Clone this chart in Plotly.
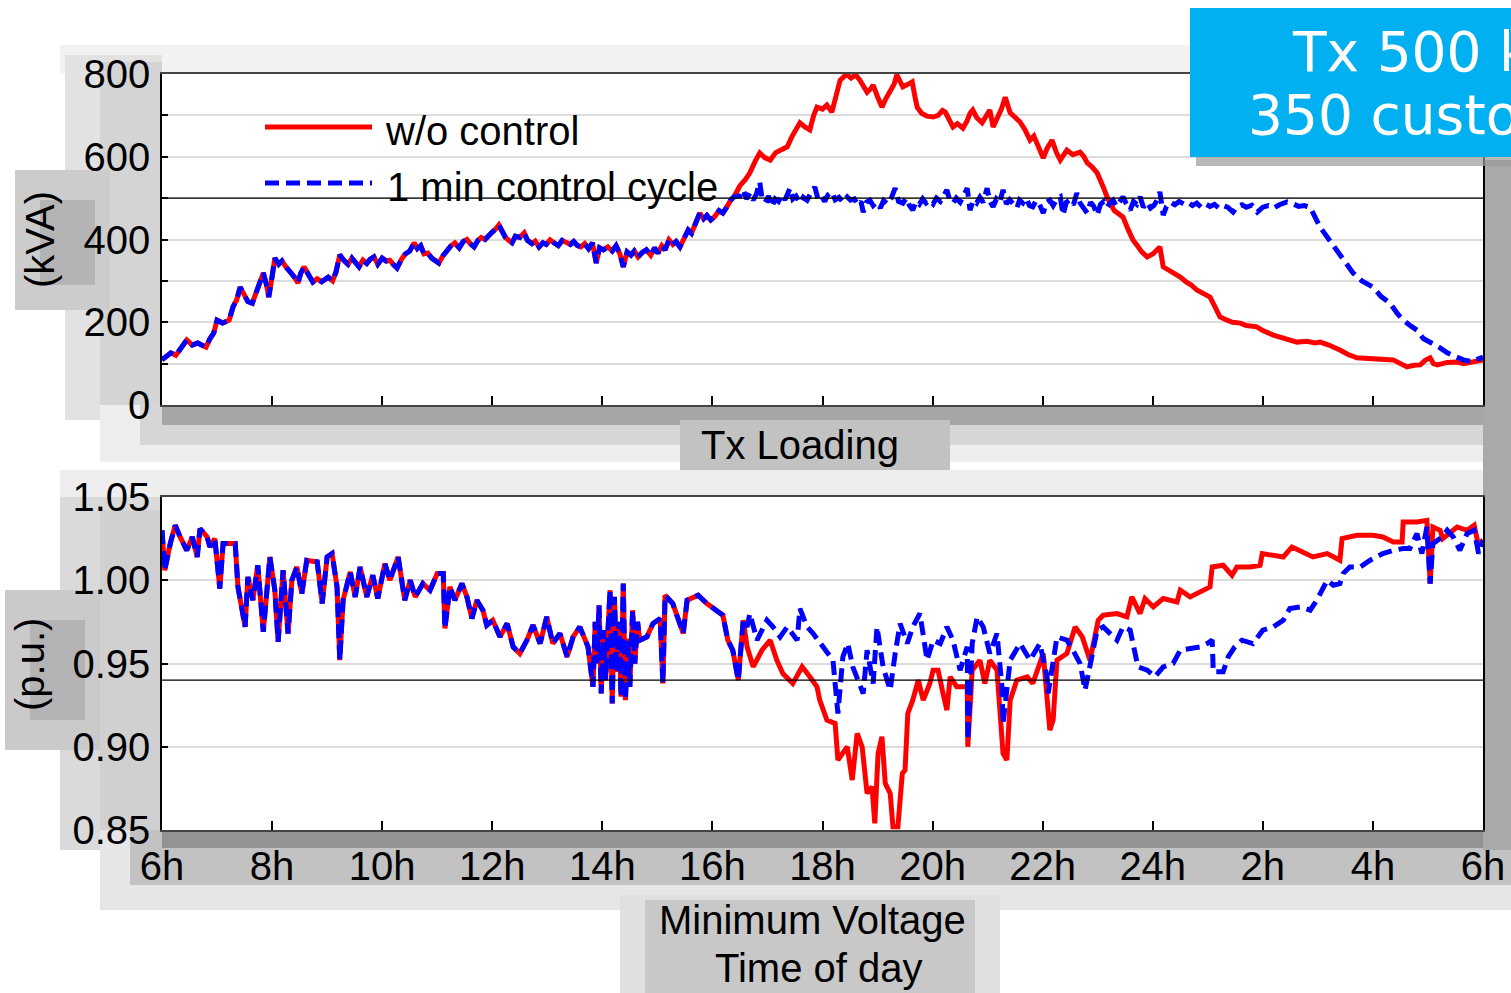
import plotly.graph_objects as go

# ---------------- data (hours since midnight, 6h -> 30h = 6h next day) ----------------
load_common_t = [6.00, 6.08, 6.16, 6.25, 6.35, 6.45, 6.55, 6.65, 6.72, 6.80, 6.87, 6.94, 7.00, 7.10, 7.22, 7.29,
                 7.36, 7.42, 7.50, 7.56, 7.64, 7.72, 7.78, 7.84, 7.90, 7.94, 8.00, 8.05, 8.12, 8.18, 8.25, 8.33,
                 8.40, 8.47, 8.52, 8.58, 8.66, 8.74, 8.82, 8.90, 9.02, 9.10, 9.16, 9.23, 9.30, 9.38, 9.45, 9.52,
                 9.58, 9.65, 9.72, 9.78, 9.85, 9.92, 10.00, 10.07, 10.14, 10.20, 10.27, 10.35, 10.42, 10.50, 10.58,
                 10.64, 10.70, 10.76, 10.83, 10.90, 10.96, 11.03, 11.10, 11.18, 11.25, 11.32, 11.40, 11.47, 11.54,
                 11.60, 11.67, 11.74, 11.80, 11.87, 11.94, 12.00, 12.06, 12.12, 12.18, 12.24, 12.30, 12.36, 12.42,
                 12.50, 12.58, 12.64, 12.72, 12.78, 12.85, 12.92, 12.98, 13.05, 13.12, 13.20, 13.27, 13.34, 13.42,
                 13.48, 13.55, 13.61, 13.68, 13.75, 13.82, 13.89, 13.95, 14.02, 14.10, 14.18, 14.25, 14.32, 14.38,
                 14.45, 14.52, 14.58, 14.65, 14.72, 14.80, 14.88, 14.95, 15.01, 15.08, 15.14, 15.21, 15.28, 15.34,
                 15.41, 15.48, 15.56, 15.62, 15.70, 15.77, 15.84, 15.90, 15.97, 16.04, 16.12, 16.19, 16.26, 16.33,
                 16.39]
load_common = [109, 118, 126, 120, 138, 157, 145, 150, 145, 140, 160, 174, 205, 198, 205, 237,
               255, 285, 265, 250, 246, 275, 295, 319, 290, 261, 310, 355, 340, 348, 334, 322,
               310, 295, 318, 334, 315, 297, 305, 298, 309, 300, 321, 363, 350, 340, 355, 345,
               334, 350, 342, 352, 358, 340, 355, 348, 350, 340, 331, 352, 365, 372, 392,
               378, 385, 365, 367, 355, 350, 343, 360, 375, 385, 392, 380, 395, 400,
               390, 382, 398, 405, 400, 411, 418, 425, 435, 420, 405, 398, 392, 408,
               405, 416, 398, 390, 396, 382, 392, 388, 399, 392, 385, 398, 394, 388,
               395, 385, 382, 390, 378, 392, 343, 380, 375, 382, 372, 385, 365, 334,
               370, 362, 372, 358, 368, 375, 362, 380, 367, 385, 375, 399, 388, 395,
               382, 400, 423, 415, 440, 464, 450, 458, 447, 455, 470, 464, 478, 495,
               503]

load_red_t = [16.50, 16.60, 16.68, 16.78, 16.86, 16.95, 17.05, 17.15, 17.25, 17.36, 17.45, 17.52, 17.59, 17.68,
              17.77, 17.84, 17.90, 18.00, 18.08, 18.17, 18.25, 18.32, 18.40, 18.45, 18.52, 18.60, 18.68, 18.75,
              18.81, 18.88, 18.92, 19.00, 19.08, 19.15, 19.23, 19.30, 19.35, 19.42, 19.46, 19.55, 19.63, 19.68,
              19.72, 19.80, 19.90, 20.01, 20.10, 20.18, 20.23, 20.30, 20.37, 20.45, 20.55, 20.62, 20.68, 20.73,
              20.80, 20.90, 20.97, 21.04, 21.10, 21.18, 21.25, 21.32, 21.41, 21.50, 21.59, 21.68, 21.77, 21.84,
              21.90, 22.01, 22.08, 22.17, 22.25, 22.32, 22.44, 22.55, 22.68, 22.75, 22.81, 22.90, 22.99, 23.05,
              23.10, 23.17, 23.22, 23.30, 23.38, 23.46, 23.55, 23.64, 23.72, 23.80, 23.90, 24.00, 24.08, 24.13,
              24.19, 24.30, 24.40, 24.50, 24.60, 24.70, 24.80, 24.92, 25.04, 25.12, 25.22, 25.35, 25.45, 25.59,
              25.70, 25.89, 26.00, 26.19, 26.30, 26.45, 26.62, 26.80, 26.95, 27.04, 27.20, 27.40, 27.55, 27.71,
              27.90, 28.13, 28.37, 28.50, 28.62, 28.75, 28.86, 28.95, 29.04, 29.10, 29.17, 29.35, 29.53, 29.65,
              29.76, 29.90, 30.00]
load_red = [530, 545, 561, 590, 609, 598, 592, 610, 618, 624, 650, 665, 682, 672,
            665, 700, 720, 715, 725, 708, 750, 785, 795, 798, 790, 798, 785, 770,
            756, 765, 773, 745, 720, 740, 756, 775, 798, 780, 769, 775, 781, 745,
            720, 705, 698, 696, 700, 712, 708, 690, 672, 680, 669, 685, 705, 713,
            695, 682, 700, 713, 672, 695, 715, 744, 706, 695, 684, 665, 640, 650,
            633, 597, 620, 640, 610, 592, 616, 605, 611, 600, 585, 575, 561, 545,
            527, 503, 488, 470, 462, 454, 425, 399, 385, 370, 358, 365, 375, 382,
            334, 325, 318, 309, 298, 290, 278, 270, 261, 240, 213, 205, 200, 198,
            192, 189, 180, 169, 165, 160, 152, 154, 150, 152, 145, 133, 122, 114,
            112, 109, 109, 100, 92, 96, 97, 108, 114, 100, 97, 103, 104, 100,
            102, 105, 109]

load_blue_t = [16.50, 16.56, 16.62, 16.68, 16.74, 16.80, 16.86, 16.90, 16.96, 17.02, 17.08, 17.14, 17.20, 17.26,
               17.32, 17.41, 17.46, 17.52, 17.59, 17.65, 17.72, 17.78, 17.86, 17.92, 17.98, 18.04, 18.10, 18.17,
               18.23, 18.30, 18.37, 18.45, 18.51, 18.58, 18.64, 18.70, 18.74, 18.80, 18.86, 18.92, 18.98, 19.05,
               19.11, 19.18, 19.25, 19.32, 19.38, 19.46, 19.52, 19.58, 19.64, 19.70, 19.76, 19.82, 19.88, 19.95,
               20.01, 20.07, 20.14, 20.20, 20.26, 20.31, 20.37, 20.43, 20.50, 20.56, 20.63, 20.68, 20.74, 20.80,
               20.86, 20.92, 20.99, 21.04, 21.10, 21.16, 21.22, 21.28, 21.34, 21.40, 21.46, 21.53, 21.58, 21.64,
               21.70, 21.76, 21.82, 21.88, 21.94, 22.01, 22.07, 22.13, 22.19, 22.26, 22.32, 22.37, 22.43, 22.50,
               22.56, 22.62, 22.68, 22.74, 22.81, 22.87, 22.93, 22.99, 23.05, 23.11, 23.17, 23.22, 23.28, 23.34,
               23.40, 23.46, 23.52, 23.59, 23.65, 23.71, 23.77, 23.83, 23.90, 23.96, 24.02, 24.08, 24.13, 24.19,
               24.25, 24.32, 24.40, 24.48, 24.56, 24.64, 24.72, 24.80, 24.88, 24.96, 25.04, 25.12, 25.20, 25.28,
               25.36, 25.46, 25.54, 25.62, 25.70, 25.80, 25.90, 26.00, 26.10, 26.20, 26.30, 26.44, 26.55, 26.65,
               26.75, 26.86, 27.04, 27.20, 27.35, 27.50, 27.64, 27.80, 28.00, 28.15, 28.31, 28.45, 28.55, 28.70,
               28.80, 28.92, 29.04, 29.20, 29.35, 29.50, 29.64, 29.80, 30.00]
load_blue = [505, 520, 498, 512, 495, 510, 539, 500, 490, 505, 479, 498, 492, 508,
             496, 524, 498, 505, 488, 502, 495, 510, 527, 497, 505, 492, 508, 515,
             496, 502, 490, 503, 495, 498, 484, 492, 466, 490, 495, 482, 490, 476,
             494, 486, 500, 524, 492, 488, 500, 482, 471, 492, 485, 498, 488, 495,
             486, 500, 492, 505, 520, 496, 488, 500, 490, 505, 524, 471, 495, 488,
             502, 490, 524, 492, 479, 498, 490, 520, 486, 496, 485, 476, 495, 488,
             500, 482, 479, 494, 486, 464, 490, 495, 482, 498, 503, 459, 490, 496,
             484, 512, 488, 478, 464, 490, 480, 459, 485, 492, 478, 488, 495, 480,
             490, 503, 486, 471, 492, 485, 503, 478, 490, 476, 482, 495, 515, 459,
             480, 490, 484, 492, 486, 490, 482, 488, 478, 486, 480, 485, 476, 482,
             478, 466, 480, 484, 478, 483, 466, 478, 482, 476, 484, 491, 486, 480,
             482, 478, 430, 400, 375, 345, 319, 300, 285, 262, 246, 220, 205, 190,
             181, 160, 152, 140, 126, 118, 109, 105, 116]

volt_common_t = [6.00, 6.05, 6.15, 6.24, 6.33, 6.45, 6.55, 6.64, 6.69, 6.82, 6.87, 6.96, 7.05, 7.11, 7.33, 7.38,
                 7.51, 7.56, 7.65, 7.74, 7.84, 7.96, 8.05, 8.11, 8.20, 8.29, 8.36, 8.45, 8.54, 8.63, 8.82, 8.91,
                 9.00, 9.09, 9.18, 9.23, 9.29, 9.42, 9.51, 9.60, 9.72, 9.83, 9.92, 10.05, 10.14, 10.29, 10.41,
                 10.51, 10.60, 10.74, 10.87, 11.00, 11.11, 11.14, 11.23, 11.32, 11.45, 11.54, 11.63, 11.72, 11.83,
                 11.90, 12.01, 12.14, 12.27, 12.38, 12.50, 12.63, 12.74, 12.87, 12.99, 13.10, 13.23, 13.36, 13.47,
                 13.59, 13.74, 13.83, 13.87, 13.90, 13.94, 13.98, 14.02, 14.06, 14.10, 14.14, 14.18, 14.22, 14.26,
                 14.30, 14.34, 14.38, 14.42, 14.46, 14.50, 14.55, 14.59, 14.64, 14.68, 14.81, 14.92, 15.05, 15.10,
                 15.14, 15.28, 15.41, 15.47, 15.54, 15.74, 15.90, 16.01, 16.19, 16.28, 16.37, 16.47, 16.56]
volt_common = [1.030, 1.006, 1.022, 1.033, 1.026, 1.018, 1.026, 1.014, 1.031, 1.026, 1.020, 1.025, 0.995, 1.022, 1.022, 0.996,
               0.972, 1.002, 0.988, 1.009, 0.969, 1.014, 0.994, 0.963, 1.006, 0.968, 1.000, 1.008, 0.992, 1.012, 1.011, 0.986,
               1.014, 1.016, 0.996, 0.952, 0.988, 1.005, 0.990, 1.008, 0.990, 1.003, 0.989, 1.010, 1.000, 1.014, 0.988,
               1.000, 0.990, 0.998, 0.994, 1.004, 1.004, 0.971, 0.996, 0.988, 0.998, 0.990, 0.977, 0.988, 0.982,
               0.973, 0.976, 0.966, 0.974, 0.960, 0.956, 0.964, 0.973, 0.962, 0.978, 0.962, 0.968, 0.954, 0.966,
               0.972, 0.960, 0.936, 0.975, 0.950, 0.985, 0.932, 0.970, 0.940, 0.968, 0.994, 0.926, 0.990, 0.945,
               0.975, 0.930, 0.998, 0.928, 0.965, 0.936, 0.982, 0.950, 0.975, 0.964, 0.966, 0.974, 0.977, 0.938,
               0.991, 0.986, 0.972, 0.968, 0.988, 0.991, 0.986, 0.983, 0.979, 0.964, 0.958, 0.940, 0.976]

volt_red_t = [16.63, 16.74, 16.90, 17.05, 17.17, 17.28, 17.46, 17.63, 17.77, 17.90, 17.95, 18.08, 18.23, 18.28,
              18.45, 18.54, 18.63, 18.72, 18.81, 18.90, 18.95, 19.01, 19.08, 19.14, 19.23, 19.28, 19.37, 19.45,
              19.50, 19.55, 19.64, 19.74, 19.83, 19.95, 20.01, 20.10, 20.19, 20.26, 20.32, 20.44, 20.63, 20.64,
              20.72, 20.86, 20.95, 21.04, 21.17, 21.28, 21.35, 21.41, 21.53, 21.72, 21.82, 22.01, 22.13, 22.19,
              22.26, 22.44, 22.59, 22.72, 22.86, 23.01, 23.10, 23.35, 23.53, 23.62, 23.77, 23.86, 24.01, 24.19,
              24.44, 24.50, 24.68, 24.91, 25.04, 25.08, 25.28, 25.44, 25.53, 25.77, 25.95, 25.99, 26.37, 26.53,
              26.73, 26.91, 27.17, 27.28, 27.40, 27.44, 27.71, 28.00, 28.18, 28.37, 28.53, 28.55, 28.80, 28.98,
              29.04, 29.09, 29.22, 29.27, 29.53, 29.71, 29.84, 29.91, 30.00]
volt_red = [0.960, 0.948, 0.958, 0.964, 0.952, 0.944, 0.938, 0.948, 0.942, 0.936, 0.928, 0.916, 0.914, 0.892,
            0.900, 0.880, 0.908, 0.900, 0.872, 0.876, 0.854, 0.896, 0.906, 0.878, 0.872, 0.852, 0.852, 0.884,
            0.886, 0.920, 0.928, 0.940, 0.928, 0.938, 0.946, 0.946, 0.932, 0.922, 0.942, 0.936, 0.936, 0.900,
            0.946, 0.952, 0.938, 0.952, 0.946, 0.896, 0.892, 0.928, 0.940, 0.942, 0.938, 0.956, 0.910, 0.916,
            0.952, 0.956, 0.972, 0.966, 0.952, 0.976, 0.979, 0.980, 0.978, 0.990, 0.980, 0.989, 0.984, 0.989,
            0.987, 0.994, 0.990, 0.994, 0.996, 1.008, 1.009, 1.003, 1.008, 1.008, 1.009, 1.016, 1.014, 1.020,
            1.017, 1.014, 1.016, 1.014, 1.012, 1.025, 1.027, 1.027, 1.026, 1.023, 1.023, 1.035, 1.035, 1.036,
            0.998, 1.032, 1.030, 1.025, 1.032, 1.030, 1.033, 1.022, 1.024]

volt_blue_t = [16.63, 16.68, 16.81, 16.99, 17.10, 17.23, 17.36, 17.54, 17.59, 17.72, 17.83, 18.01, 18.19, 18.28,
               18.37, 18.46, 18.55, 18.74, 18.81, 18.92, 18.99, 19.10, 19.23, 19.32, 19.41, 19.54, 19.64, 19.77,
               19.90, 20.01, 20.14, 20.26, 20.37, 20.50, 20.63, 20.64, 20.72, 20.81, 20.92, 21.04, 21.17, 21.26,
               21.28, 21.41, 21.59, 21.77, 21.95, 22.08, 22.10, 22.26, 22.44, 22.55, 22.68, 22.77, 22.86, 22.99,
               23.10, 23.22, 23.35, 23.46, 23.59, 23.68, 23.73, 23.90, 24.04, 24.19, 24.37, 24.50, 24.68, 24.86,
               24.99, 25.08, 25.10, 25.28, 25.37, 25.49, 25.62, 25.82, 26.00, 26.19, 26.37, 26.49, 26.68, 26.86,
               26.98, 27.17, 27.28, 27.40, 27.46, 27.58, 27.77, 27.95, 28.18, 28.37, 28.55, 28.67, 28.80, 28.89,
               28.98, 29.04, 29.09, 29.26, 29.35, 29.46, 29.58, 29.71, 29.84, 29.92, 30.00]
volt_blue = [0.972, 0.980, 0.964, 0.976, 0.972, 0.966, 0.972, 0.964, 0.983, 0.972, 0.968, 0.960, 0.952, 0.920,
             0.954, 0.962, 0.948, 0.932, 0.958, 0.938, 0.972, 0.948, 0.934, 0.956, 0.974, 0.962, 0.972, 0.980,
             0.952, 0.964, 0.962, 0.972, 0.964, 0.946, 0.960, 0.904, 0.962, 0.978, 0.972, 0.956, 0.968, 0.936,
             0.914, 0.952, 0.962, 0.952, 0.962, 0.942, 0.932, 0.966, 0.964, 0.958, 0.950, 0.934, 0.950, 0.970,
             0.972, 0.968, 0.964, 0.972, 0.970, 0.956, 0.948, 0.946, 0.942, 0.948, 0.950, 0.958, 0.959, 0.960,
             0.962, 0.964, 0.945, 0.945, 0.954, 0.960, 0.964, 0.962, 0.970, 0.972, 0.976, 0.983, 0.984, 0.982,
             0.988, 1.000, 0.997, 0.998, 1.004, 1.008, 1.008, 1.012, 1.016, 1.018, 1.019, 1.019, 1.028, 1.016,
             1.032, 0.998, 1.022, 1.026, 1.030, 1.026, 1.018, 1.028, 1.030, 1.016, 1.024]

x_tickvals = [6, 8, 10, 12, 14, 16, 18, 20, 22, 24, 26, 28, 30]
x_ticktext = ['6h', '8h', '10h', '12h', '14h', '16h', '18h', '20h', '22h', '24h', '2h', '4h', '6h']
load_ticks = [0, 100, 200, 300, 400, 500, 600, 700, 800]
load_ticktext = ['0', '', '200', '', '400', '', '600', '', '800']
volt_ticks = [0.85, 0.90, 0.95, 1.00, 1.05]
volt_ticktext = ['0.85', '0.90', '0.95', '1.00', '1.05']
load_limit = 500
volt_limit = 0.94
series_names = ['w/o control', '1 min control cycle']

# ---------------- figure ----------------
W, H = 1511, 993
def px(x):
    return x / W
def py(y):
    return 1 - y / H

RED = '#FF0000'
BLUE = '#0000FF'
FONT = 'Liberation Sans, Arial, sans-serif'
LW = 5

fig = go.Figure()
fig.add_trace(go.Scatter(x=load_common_t + load_red_t, y=load_common + load_red, mode='lines',
                         line=dict(color=RED, width=LW), xaxis='x', yaxis='y', showlegend=False))
fig.add_trace(go.Scatter(x=load_common_t + load_blue_t, y=load_common + load_blue, mode='lines',
                         line=dict(color=BLUE, width=LW, dash='14px,7px'), xaxis='x', yaxis='y', showlegend=False))
fig.add_trace(go.Scatter(x=volt_common_t + volt_red_t, y=volt_common + volt_red, mode='lines',
                         line=dict(color=RED, width=LW), xaxis='x2', yaxis='y2', showlegend=False))
fig.add_trace(go.Scatter(x=volt_common_t + volt_blue_t, y=volt_common + volt_blue, mode='lines',
                         line=dict(color=BLUE, width=LW, dash='14px,7px'), xaxis='x2', yaxis='y2', showlegend=False))

xdom = [px(162), px(1483)]
tickfont = dict(family=FONT, size=40, color='black')
common_x = dict(range=[6, 30], domain=xdom, tickvals=x_tickvals, ticks='inside', ticklen=9, tickwidth=2,
                tickcolor='black', showgrid=False, showline=True, linecolor='#444', linewidth=1.5, mirror=True,
                zeroline=False, fixedrange=True, automargin=False)
common_y = dict(ticks='inside', ticklen=6, tickwidth=2, tickcolor='black', showgrid=True, gridcolor='#dcdcdc',
                gridwidth=1.5, showline=True, linecolor='black', linewidth=1.5, mirror=True, zeroline=False,
                tickfont=tickfont, ticklabelstandoff=2, automargin=False)

fig.update_layout(
    width=W, height=H, margin=dict(l=0, r=0, t=0, b=0, autoexpand=False),
    paper_bgcolor='white', plot_bgcolor='white', showlegend=False,
    xaxis=dict(common_x, anchor='y', showticklabels=False),
    yaxis=dict(common_y, domain=[py(405), py(74)], range=[0, 800], tickvals=load_ticks, ticktext=load_ticktext),
    xaxis2=dict(common_x, anchor='y2', ticktext=x_ticktext, showticklabels=True, tickfont=tickfont,
                ticklabelstandoff=0),
    yaxis2=dict(common_y, domain=[py(830), py(497)], range=[0.85, 1.05], tickvals=volt_ticks,
                ticktext=volt_ticktext),
)

shapes = []
# soft grey shadow artefacts around the panels (outside the plotting areas)
def grey(x0, y0, x1, y1, c):
    shapes.append(dict(type='rect', xref='paper', yref='paper', x0=px(x0), x1=px(x1), y0=py(y1), y1=py(y0),
                       fillcolor=c, line=dict(width=0), layer='below'))
grey(60, 45, 1190, 74, '#f2f2f2')
grey(65, 55, 162, 420, '#e2e2e2')
grey(100, 62, 162, 412, '#d4d4d4')
grey(15, 170, 110, 310, '#cccccc')
grey(40, 200, 95, 285, '#b4b4b4')
grey(100, 405, 1511, 462, '#eeeeee')
grey(140, 405, 1511, 445, '#d6d6d6')
grey(162, 405, 1483, 425, '#a6a6a6')
grey(680, 420, 950, 490, '#c2c2c2')
grey(60, 470, 1511, 497, '#eeeeee')
grey(60, 497, 162, 850, '#dadada')
grey(100, 510, 162, 840, '#d0d0d0')
grey(5, 590, 100, 750, '#cacaca')
grey(30, 620, 85, 720, '#b4b4b4')
grey(100, 830, 1511, 910, '#e6e6e6')
grey(130, 830, 1511, 885, '#c2c2c2')
grey(162, 830, 1483, 848, '#939393')
grey(620, 895, 1000, 993, '#e0e0e0')
grey(645, 900, 975, 993, '#c8c8c8')
grey(1483, 160, 1511, 850, '#a9a9a9')

# limit lines
shapes.append(dict(type='line', xref='x domain', yref='y', x0=0, x1=1, y0=load_limit, y1=load_limit,
                   line=dict(color='black', width=1.2), layer='above'))
shapes.append(dict(type='line', xref='x2 domain', yref='y2', x0=0, x1=1, y0=volt_limit, y1=volt_limit,
                   line=dict(color='black', width=1.2), layer='above'))
# legend samples
shapes.append(dict(type='line', xref='paper', yref='paper', x0=px(265), x1=px(372), y0=py(127), y1=py(127),
                   line=dict(color=RED, width=LW), layer='above'))
shapes.append(dict(type='line', xref='paper', yref='paper', x0=px(265), x1=px(372), y0=py(183), y1=py(183),
                   line=dict(color=BLUE, width=LW, dash='14px,7px'), layer='above'))
# info box with shadow
shapes.append(dict(type='rect', xref='paper', yref='paper', x0=px(1196), x1=px(1530), y0=py(166), y1=py(14),
                   fillcolor='#9a9a9a', line=dict(width=0), layer='above', opacity=0.7))
shapes.append(dict(type='rect', xref='paper', yref='paper', x0=px(1190), x1=px(1530), y0=py(157), y1=py(8),
                   fillcolor='#00B0F0', line=dict(width=0), layer='above'))
fig.update_layout(shapes=shapes)

ann = []
def text(x, y, s, size=40, xanchor='center', angle=0, color='black', family=FONT):
    ann.append(dict(xref='paper', yref='paper', x=px(x), y=py(y), text=s, showarrow=False, xanchor=xanchor,
                    yanchor='middle', textangle=angle, font=dict(family=family, size=size, color=color)))
text(383, 131, series_names[0], xanchor='left')
text(385, 187, series_names[1], xanchor='left')
text(40, 240, '(kVA)', angle=-90)
text(30, 665, '(p.u.)', angle=-90)
text(800, 445, 'Tx Loading')
text(812, 920, 'Minimum Voltage')
text(818, 968, 'Time of day')
text(1290, 52, 'Tx 500 kVA', size=55, xanchor='left', color='white', family='DejaVu Sans, Verdana, sans-serif')
text(1246, 115, '350 customers', size=55, xanchor='left', color='white', family='DejaVu Sans, Verdana, sans-serif')
fig.update_layout(annotations=ann)

fig.write_html('out.html')
